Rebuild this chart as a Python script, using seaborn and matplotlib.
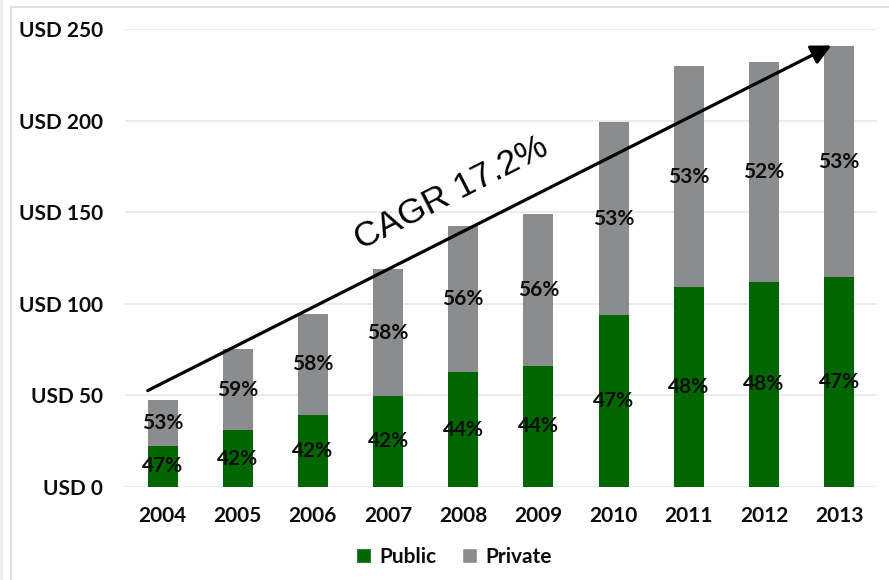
import matplotlib
matplotlib.use("Agg")
import matplotlib.pyplot as plt
import seaborn as sns
import pandas as pd
from matplotlib.patches import Patch, Rectangle

years = ["2004", "2005", "2006", "2007", "2008", "2009", "2010", "2011", "2012", "2013"]
public = [22.2, 30.8, 39.2, 49.4, 62.4, 66.0, 93.6, 109.0, 111.9, 114.4]
private = [25.2, 44.2, 55.1, 69.5, 80.1, 83.0, 105.5, 120.7, 120.3, 126.3]
public_pct = ["47%", "42%", "42%", "42%", "44%", "44%", "47%", "48%", "48%", "47%"]
private_pct = ["53%", "59%", "58%", "58%", "56%", "56%", "53%", "53%", "52%", "53%"]
y_ticks = [0, 50, 100, 150, 200, 250]
y_tick_labels = ["USD 0", "USD 50", "USD 100", "USD 150", "USD 200", "USD 250"]
cagr_text = "CAGR 17.2%"

GREEN = "#006600"
GRAY = "#8A8C8E"

df = pd.DataFrame({"year": years, "public": public, "private": private})
df["total"] = df["public"] + df["private"]

sns.set_theme(style="white")
plt.rcParams["font.family"] = ["Lato", "DejaVu Sans"]

fig = plt.figure(figsize=(8.89, 5.8), dpi=100)
ax = fig.add_axes([125 / 889, 1 - 486.7 / 580, (876.7 - 125) / 889, (486.7 - 29) / 580])

sns.barplot(data=df, x="year", y="total", order=years, color=GRAY, width=0.4,
            saturation=1, ax=ax, linewidth=0)
sns.barplot(data=df, x="year", y="public", order=years, color=GREEN, width=0.4,
            saturation=1, ax=ax, linewidth=0)

ax.set_ylim(0, 250)
ax.set_xlim(-0.5, len(years) - 0.5)
ax.set_yticks(y_ticks)
ax.set_yticklabels(y_tick_labels)
ax.set_xlabel("")
ax.set_ylabel("")
ax.grid(axis="y", color="#E8E8E8", linewidth=1.2)
ax.grid(axis="x", visible=False)
ax.set_axisbelow(True)
for s in ax.spines.values():
    s.set_visible(False)
ax.tick_params(axis="y", length=0, pad=16, labelsize=15, labelcolor="#0d0d0d")
ax.tick_params(axis="x", length=0, pad=14, labelsize=15, labelcolor="#0d0d0d")
for lab in ax.get_yticklabels() + ax.get_xticklabels():
    lab.set_fontweight("bold")

for i, (p, q) in enumerate(zip(df["public"], df["total"])):
    ax.text(i, p / 2, public_pct[i], ha="center", va="center", fontsize=15,
            fontweight="bold", color="#0d0d0d")
    ax.text(i, (p + q) / 2, private_pct[i], ha="center", va="center", fontsize=15,
            fontweight="bold", color="#0d0d0d")

# CAGR arrow
ax.annotate("", xy=(8.898, 241), xytext=(-0.198, 52.5),
            arrowprops=dict(arrowstyle="-|>", color="black", lw=2.3,
                            mutation_scale=30, shrinkA=0, shrinkB=0))
ax.text(3.84, 160.5, cagr_text, rotation=27, rotation_mode="anchor",
        ha="center", va="center", fontsize=25.5, family=["Liberation Sans", "DejaVu Sans"],
        color="black")

handles = [Patch(facecolor=GREEN, label="Public"), Patch(facecolor=GRAY, label="Private")]
leg = fig.legend(handles=handles, loc="center", bbox_to_anchor=(454 / 889, 1 - 557 / 580),
                 ncol=2, frameon=False, handlelength=0.75, handleheight=0.75,
                 handletextpad=0.4, columnspacing=1.2,
                 prop=dict(family=["Lato", "DejaVu Sans"], weight="bold", size=15))
for t in leg.get_texts():
    t.set_color("#0d0d0d")

# chart border
fig.patches.append(Rectangle((11 / 889, -0.1), 1.2, 1.1 - 7 / 580, transform=fig.transFigure,
                             fill=False, edgecolor="#D9D9D9", linewidth=1.2))
fig.patches.append(Rectangle((0, 0), 3 / 889, 1, transform=fig.transFigure,
                             facecolor="#EDEDED", edgecolor="none"))

fig.savefig("out.png", dpi=100)
